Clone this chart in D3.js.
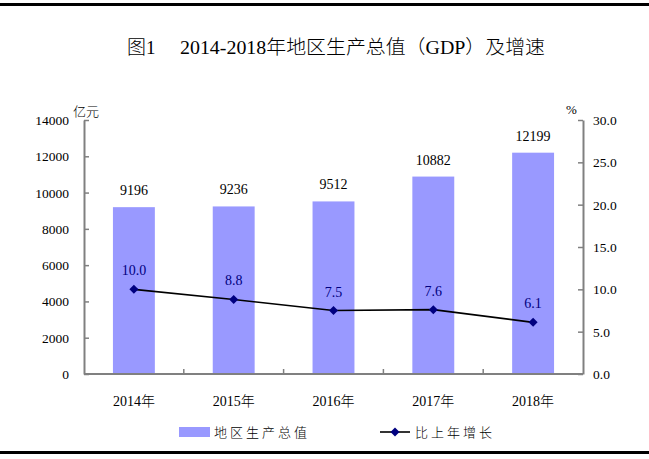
<!DOCTYPE html>
<html><head><meta charset="utf-8">
<script src="https://cdn.jsdelivr.net/npm/d3@7/dist/d3.min.js"></script>
<style>body{margin:0;background:#fff}svg{display:block}</style>
</head><body>
<svg id="c" width="649" height="459"></svg>
<script>
const categories = ["2014年","2015年","2016年","2017年","2018年"];
const gdpValues = [9196, 9236, 9512, 10882, 12199];
const growthValues = [10.0, 8.8, 7.5, 7.6, 6.1];
const leftTicks = [0,2000,4000,6000,8000,10000,12000,14000];
const rightTicks = [0,5,10,15,20,25,30];

(function(){
const svg = d3.select("#c");
const serif = "'Liberation Serif','Times New Roman','Noto Sans CJK SC',serif";
const pLeft = 84, pRight = 583, pTop = 120, pBottom = 374;

// frame lines
svg.append("rect").attr("x",0).attr("y",3).attr("width",649).attr("height",3).attr("fill","#000");
svg.append("rect").attr("x",0).attr("y",451).attr("width",649).attr("height",3).attr("fill","#000");

// title
svg.append("text").attr("x",127).attr("y",54).attr("font-family",serif).attr("font-size",19)
  .attr("font-weight",300).text("图1");
svg.append("text").attr("x",180).attr("y",54).attr("font-family",serif).attr("font-size",19)
  .attr("font-weight",300).attr("textLength",365).attr("lengthAdjust","spacingAndGlyphs")
  .text("2014-2018年地区生产总值（GDP）及增速");

const x = d3.scaleBand().domain(categories).range([pLeft,pRight]).paddingInner(0).paddingOuter(0);
const yL = d3.scaleLinear().domain([0,14000]).range([pBottom,pTop]);
const yR = d3.scaleLinear().domain([0,30]).range([pBottom,pTop]);

const grey = "#808080";
// left axis
const gl = svg.append("g").attr("transform",`translate(${pLeft},0)`)
  .call(d3.axisRight(yL).tickValues(leftTicks).tickSize(5).tickSizeOuter(0).tickFormat(""));
gl.select(".domain").attr("stroke",grey).attr("stroke-width",2);
gl.selectAll(".tick line").attr("stroke",grey).attr("stroke-width",1.5);
svg.selectAll(".ll").data(leftTicks).enter().append("text")
  .attr("x",69).attr("y",d=>yL(d)+5).attr("text-anchor","end")
  .attr("font-family",serif).attr("font-size",13.5).text(d=>d);

// right axis
const gr = svg.append("g").attr("transform",`translate(${pRight},0)`)
  .call(d3.axisLeft(yR).tickValues(rightTicks).tickSize(5).tickSizeOuter(0).tickFormat(""));
gr.select(".domain").attr("stroke",grey).attr("stroke-width",2);
gr.selectAll(".tick line").attr("stroke",grey).attr("stroke-width",1.5);
svg.selectAll(".rl").data(rightTicks).enter().append("text")
  .attr("x",593).attr("y",d=>yR(d)+5).attr("text-anchor","start")
  .attr("font-family",serif).attr("font-size",13.5).text(d=>d.toFixed(1));

// bars
const bw = x.bandwidth()*0.42;
svg.selectAll(".bar").data(gdpValues).enter().append("rect")
  .attr("x",(d,i)=>x(categories[i])+x.bandwidth()/2-bw/2)
  .attr("y",d=>yL(d)).attr("width",bw).attr("height",d=>pBottom-yL(d))
  .attr("fill","#9999ff");

// bottom axis
const boundaries = categories.map(c=>x(c)).slice(1);
svg.append("line").attr("x1",pLeft).attr("x2",pRight).attr("y1",pBottom).attr("y2",pBottom)
  .attr("stroke",grey).attr("stroke-width",2);
svg.selectAll(".xt").data(boundaries).enter().append("line")
  .attr("x1",d=>d).attr("x2",d=>d).attr("y1",pBottom).attr("y2",pBottom-5)
  .attr("stroke",grey).attr("stroke-width",1.5);
svg.selectAll(".xl").data(categories).enter().append("text")
  .attr("x",d=>x(d)+x.bandwidth()/2).attr("y",406).attr("text-anchor","middle")
  .attr("font-family",serif).attr("font-size",14).attr("font-weight",300).text(d=>d);

// units
svg.append("text").attr("x",73).attr("y",116).attr("font-family",serif).attr("font-size",13).attr("font-weight",300).text("亿元");
svg.append("text").attr("x",566).attr("y",114).attr("font-family",serif).attr("font-size",13).text("%");

// bar labels
svg.selectAll(".bl").data(gdpValues).enter().append("text")
  .attr("x",(d,i)=>x(categories[i])+x.bandwidth()/2).attr("y",d=>yL(d)-12)
  .attr("text-anchor","middle").attr("font-family",serif).attr("font-size",14).text(d=>d);

// line
const cx = (d,i)=>x(categories[i])+x.bandwidth()/2;
const line = d3.line().x(cx).y(d=>yR(d));
svg.append("path").datum(growthValues).attr("d",line).attr("fill","none")
  .attr("stroke","#000").attr("stroke-width",1.6);
svg.selectAll(".pt").data(growthValues).enter().append("path")
  .attr("d",d3.symbol().type(d3.symbolDiamond2).size(52))
  .attr("transform",(d,i)=>`translate(${cx(d,i)},${yR(d)})`)
  .attr("fill","#000080");
svg.selectAll(".gv").data(growthValues).enter().append("text")
  .attr("x",cx).attr("y",d=>yR(d)-14).attr("text-anchor","middle")
  .attr("font-family",serif).attr("font-size",14).attr("fill","#000080").text(d=>d.toFixed(1));

// legend
svg.append("rect").attr("x",179).attr("y",427).attr("width",31).attr("height",10).attr("fill","#9999ff");
svg.append("text").attr("x",214).attr("y",437).attr("font-family",serif).attr("font-size",13)
  .attr("font-weight",300).attr("letter-spacing",3).text("地区生产总值");
svg.append("line").attr("x1",380).attr("x2",410).attr("y1",432).attr("y2",432).attr("stroke","#000").attr("stroke-width",1.6);
svg.append("path").attr("d",d3.symbol().type(d3.symbolDiamond2).size(52))
  .attr("transform","translate(395,432)").attr("fill","#000080");
svg.append("text").attr("x",415).attr("y",437).attr("font-family",serif).attr("font-size",13)
  .attr("font-weight",300).attr("letter-spacing",3).text("比上年增长");
})();
</script>
</body></html>
